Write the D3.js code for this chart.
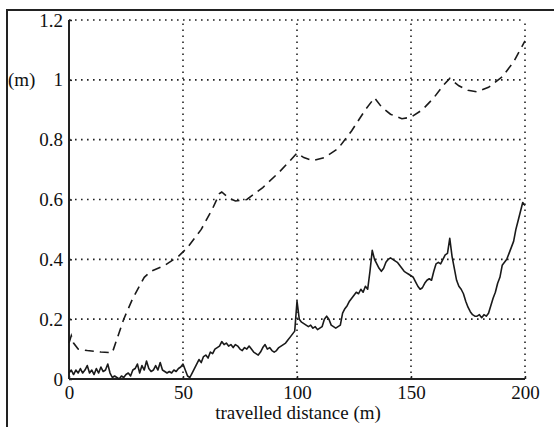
<!DOCTYPE html>
<html>
<head>
<meta charset="utf-8">
<script src="https://cdn.jsdelivr.net/npm/d3@7"></script>
<style>
  body { margin: 0; background: #fff; }
  svg text { font-family: "Liberation Serif", "Times New Roman", "DejaVu Serif", serif; fill: #111; }
</style>
</head>
<body>
<div class="chart"></div>
<script>
const W = 554, H = 427;
const SERIF = "'Liberation Serif', 'Times New Roman', 'DejaVu Serif', serif";

const xTicks = [0, 50, 100, 150, 200];
const yTicks = [0, 0.2, 0.4, 0.6, 0.8, 1, 1.2];
const yTickLabels = ["0", "0.2", "0.4", "0.6", "0.8", "1", "1.2"];

// solid line, one value per metre 0..200
const solidVals = [
  0.02, 0.03, 0.015, 0.03, 0.02, 0.035, 0.02, 0.03, 0.045, 0.02,
  0.03, 0.015, 0.035, 0.02, 0.04, 0.025, 0.03, 0.05, 0.02, 0.005,
  0.01, 0.005, 0.0, 0.01, 0.005, 0.015, 0.02, 0.01, 0.03, 0.035,
  0.05, 0.02, 0.045, 0.03, 0.06, 0.035, 0.025, 0.03, 0.045, 0.03,
  0.055, 0.03, 0.025, 0.02, 0.025, 0.02, 0.03, 0.025, 0.035, 0.04,
  0.05, 0.03, 0.01, 0.005, 0.02, 0.035, 0.05, 0.065, 0.055, 0.075,
  0.08, 0.07, 0.09, 0.085, 0.1, 0.105, 0.11, 0.125, 0.115, 0.12,
  0.11, 0.115, 0.105, 0.115, 0.11, 0.1, 0.095, 0.105, 0.1, 0.11,
  0.1, 0.09, 0.085, 0.08, 0.09, 0.105, 0.115, 0.1, 0.105, 0.095,
  0.09, 0.095, 0.105, 0.11, 0.115, 0.12, 0.13, 0.14, 0.15, 0.16,
  0.26, 0.2, 0.19, 0.185, 0.18, 0.175, 0.18, 0.17, 0.175, 0.165,
  0.17, 0.175, 0.2, 0.21, 0.2, 0.18, 0.175, 0.17, 0.175, 0.18,
  0.22, 0.235, 0.245, 0.26, 0.27, 0.28, 0.29, 0.285, 0.3, 0.29,
  0.31, 0.3, 0.36, 0.43, 0.4, 0.385, 0.37, 0.36, 0.37, 0.39,
  0.4, 0.405, 0.4, 0.395, 0.39, 0.38, 0.37, 0.36, 0.355, 0.35,
  0.345, 0.34, 0.325, 0.31, 0.3, 0.305, 0.32, 0.33, 0.335, 0.33,
  0.36, 0.385, 0.39, 0.385, 0.4, 0.415, 0.42, 0.47, 0.41, 0.37,
  0.33, 0.31, 0.3, 0.285, 0.26, 0.24, 0.225, 0.215, 0.21, 0.21,
  0.215, 0.205, 0.215, 0.21, 0.22, 0.245, 0.27, 0.29, 0.32, 0.34,
  0.38, 0.39, 0.4, 0.42, 0.44, 0.46, 0.5, 0.53, 0.56, 0.59,
  0.58
];

// dashed line
const dashedX = [0, 1, 2, 4, 8, 14, 19, 24, 28, 33, 36, 42, 48, 52, 58, 63, 66, 67, 70, 73,
  78, 85, 92, 97, 100, 103, 107, 112, 118, 124, 130, 134, 137, 141, 146, 150, 155, 160,
  164, 167, 171, 175, 179, 184, 190, 195, 200];
const dashedVals = [0.12, 0.145, 0.12, 0.1, 0.095, 0.09, 0.088, 0.2, 0.27, 0.34, 0.36, 0.38,
  0.41, 0.44, 0.5, 0.57, 0.62, 0.625, 0.605, 0.595, 0.6, 0.64, 0.69, 0.73, 0.755, 0.74,
  0.73, 0.74, 0.77, 0.83, 0.9, 0.94, 0.91, 0.885, 0.87, 0.875, 0.9, 0.94, 0.98, 1.005,
  0.98, 0.965, 0.96, 0.975, 1.01, 1.06, 1.13];

const svg = d3.select(".chart").append("svg")
  .attr("width", W)
  .attr("height", H)
  .attr("font-family", SERIF);

const x = d3.scaleLinear().domain([0, 200]).range([69, 525]);
const y = d3.scaleLinear().domain([0, 1.2]).range([379, 20]);

// outer frame (left + top edges of the scanned box)
svg.append("path")
  .attr("d", "M7," + H + " L7,10 L" + W + ",10")
  .attr("fill", "none")
  .attr("stroke", "#222")
  .attr("stroke-width", 2);

// dotted grid
const grid = svg.append("g")
  .attr("stroke", "#222")
  .attr("stroke-width", 1.6)
  .attr("stroke-dasharray", "1.6,4.4");

grid.selectAll("line.v")
  .data(xTicks.filter(d => d > 0))
  .enter().append("line")
  .attr("x1", d => x(d)).attr("x2", d => x(d))
  .attr("y1", y(0)).attr("y2", y(1.2));

grid.selectAll("line.h")
  .data(yTicks.filter(d => d > 0))
  .enter().append("line")
  .attr("x1", x(0)).attr("x2", x(200))
  .attr("y1", d => y(d)).attr("y2", d => y(d));

// axes
const xAxis = d3.axisBottom(x).tickValues(xTicks).tickSize(-3).tickPadding(7);
const yAxis = d3.axisLeft(y).tickValues(yTicks).tickSize(-3).tickPadding(6)
  .tickFormat((d, i) => yTickLabels[i]);

const gx = svg.append("g").attr("transform", "translate(0," + y(0) + ")").call(xAxis);
const gy = svg.append("g").attr("transform", "translate(" + x(0) + ",0)").call(yAxis);

[gx, gy].forEach(g => {
  g.attr("font-family", SERIF).attr("font-size", 19);
  g.select(".domain").remove();
  g.selectAll("line").attr("stroke", "#222").attr("stroke-width", 1.5);
  g.selectAll("text").attr("fill", "#111");
});

svg.append("line")
  .attr("x1", x(0)).attr("x2", x(200))
  .attr("y1", y(0)).attr("y2", y(0))
  .attr("stroke", "#222").attr("stroke-width", 2.2);
svg.append("line")
  .attr("x1", x(0)).attr("x2", x(0))
  .attr("y1", y(0)).attr("y2", y(1.2))
  .attr("stroke", "#222").attr("stroke-width", 2);

// lines
const line = d3.line()
  .x(d => x(d[0]))
  .y(d => y(d[1]));

svg.append("path")
  .datum(solidVals.map((v, i) => [i, v]))
  .attr("d", line)
  .attr("fill", "none")
  .attr("stroke", "#1a1a1a")
  .attr("stroke-width", 1.6)
  .attr("stroke-linejoin", "round");

svg.append("path")
  .datum(dashedX.map((d, i) => [d, dashedVals[i]]))
  .attr("d", line)
  .attr("fill", "none")
  .attr("stroke", "#1a1a1a")
  .attr("stroke-width", 1.6)
  .attr("stroke-dasharray", "9,6");

// labels
svg.append("text")
  .attr("x", 8).attr("y", 86)
  .attr("font-size", 19)
  .text("(m)");

svg.append("text")
  .attr("x", 298).attr("y", 419)
  .attr("text-anchor", "middle")
  .attr("font-size", 19)
  .text("travelled distance (m)");
</script>
</body>
</html>
